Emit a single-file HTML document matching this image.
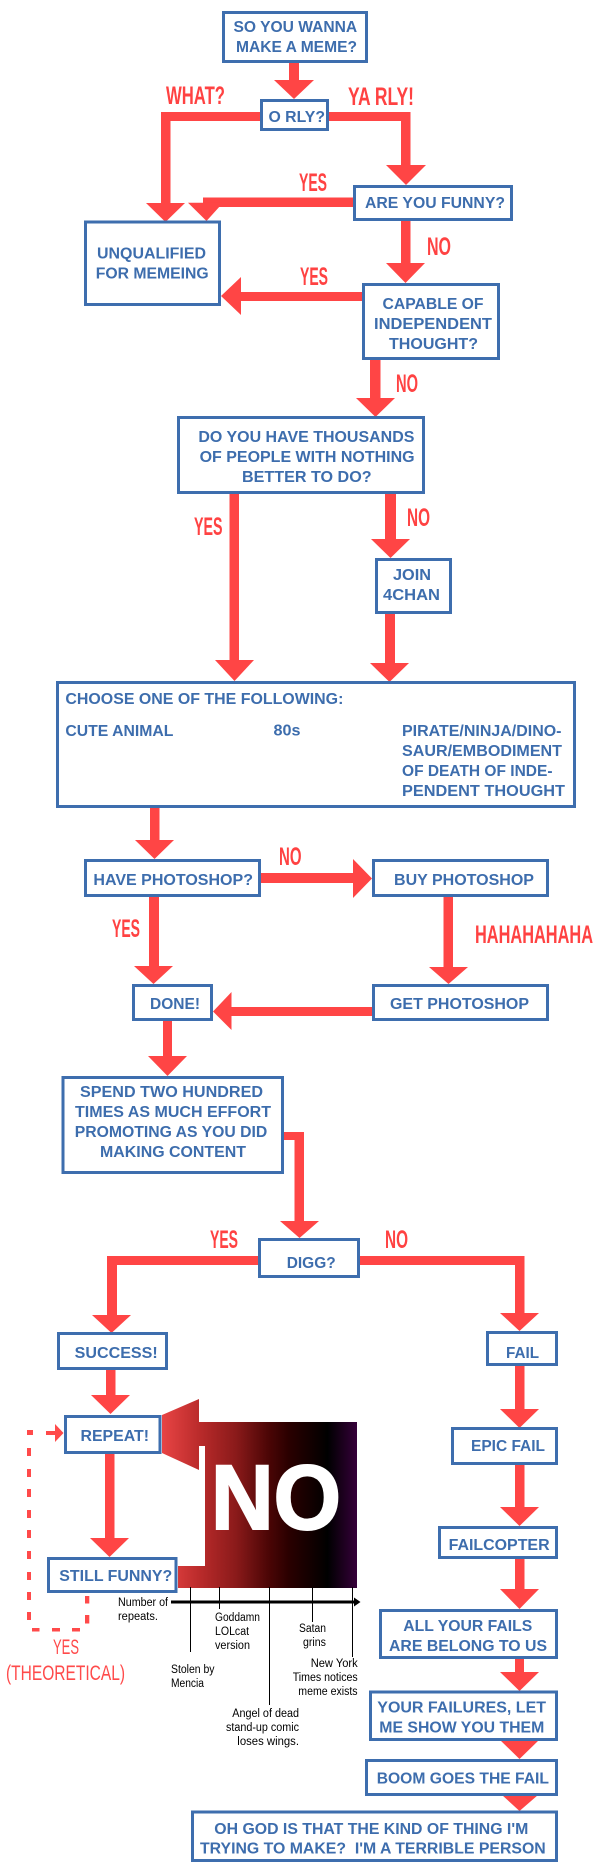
<!DOCTYPE html>
<html><head><meta charset="utf-8"><style>
html,body{margin:0;padding:0;background:#fff;}
svg{display:block;}
.bt{font-family:"Liberation Sans",Arial,sans-serif;font-weight:bold;font-size:16px;fill:#3d6dad;}
.rl{font-family:"Liberation Sans",Arial,sans-serif;font-weight:bold;font-size:25px;fill:#ff4242;}
.th{font-family:"Liberation Sans",Arial,sans-serif;font-size:21px;fill:#ff4a4a;}
.sm{font-family:"Liberation Sans",Arial,sans-serif;font-size:11.5px;fill:#000;}
</style></head><body>
<svg width="610" height="1875" viewBox="0 0 610 1875" xmlns="http://www.w3.org/2000/svg">
<defs>
<linearGradient id="g" gradientUnits="userSpaceOnUse" x1="162" y1="0" x2="357" y2="0">
<stop offset="0" stop-color="#e84444"/>
<stop offset="0.2" stop-color="#b82a2a"/>
<stop offset="0.38" stop-color="#8a1a1a"/>
<stop offset="0.55" stop-color="#4a0505"/>
<stop offset="0.65" stop-color="#2a0000"/>
<stop offset="0.85" stop-color="#000000"/>
<stop offset="1" stop-color="#36003a"/>
</linearGradient>
</defs>
<rect width="610" height="1875" fill="#fff"/>

<!-- red arrows -->
<g fill="#ff4545">
<rect x="289" y="62" width="10" height="19"/><polygon points="274,80 314,80 294,99"/>
<rect x="161" y="112" width="100" height="9"/><rect x="161" y="112" width="9.5" height="92"/><polygon points="146,203 185,203 165.5,222"/>
<rect x="328" y="112" width="82.5" height="9"/><rect x="401" y="112" width="9.5" height="54"/><polygon points="386,165 426,165 406,185"/>
<rect x="203" y="197.5" width="151" height="9.5"/><polygon points="188,202.7 223,202.7 206.5,221"/>
<rect x="401" y="220" width="9.5" height="44"/><polygon points="386,263 425,263 405.5,283"/>
<rect x="240" y="292" width="123" height="9"/><polygon points="241,277 241,315 221,296"/>
<rect x="370" y="359" width="10.5" height="40"/><polygon points="356,398 395,398 375.5,417"/>
<rect x="229.5" y="493" width="9.5" height="168"/><polygon points="215,660 254,660 234.5,681"/>
<rect x="385" y="493" width="11" height="47"/><polygon points="371,539 410,539 390.5,558"/>
<rect x="385" y="613" width="10" height="51"/><polygon points="370,663 409,663 389.5,682"/>
<rect x="150" y="807" width="9.5" height="34"/><polygon points="135,840 174,840 154.5,859"/>
<rect x="260" y="873" width="94" height="10"/><polygon points="353,859 353,898 372,878.5"/>
<rect x="443.5" y="896" width="9.5" height="72"/><polygon points="429,967 468,967 448.5,984"/>
<rect x="149" y="896" width="10" height="71"/><polygon points="134,966 173,966 153.5,984"/>
<rect x="231" y="1007" width="142" height="9"/><polygon points="231.5,992 231.5,1030 213,1011.5"/>
<rect x="163" y="1020" width="9" height="37"/><polygon points="148,1056 187,1056 167.5,1076"/>
<rect x="283" y="1132" width="21" height="8"/><rect x="294.5" y="1132" width="9.5" height="90"/><polygon points="280,1221 319,1221 299.5,1238"/>
<rect x="107" y="1256" width="153" height="9"/><rect x="107" y="1256" width="10" height="60"/><polygon points="92,1315 131,1315 111.5,1333"/>
<rect x="358" y="1256" width="166.5" height="9"/><rect x="515" y="1256" width="9.5" height="58"/><polygon points="500,1313 539,1313 519.5,1331"/>
<rect x="106" y="1369" width="9.5" height="27"/><polygon points="91,1395 130,1395 110.5,1414"/>
<rect x="105" y="1453" width="9.5" height="86"/><polygon points="90,1538 129,1538 109.5,1557"/>
<rect x="515" y="1365" width="9.5" height="45"/><polygon points="500,1409 539,1409 519.5,1428"/>
<rect x="515" y="1464" width="9.5" height="44"/><polygon points="500,1507 539,1507 519.5,1526"/>
<rect x="515" y="1558" width="9.5" height="32"/><polygon points="500,1589 539,1589 519.5,1609"/>
<rect x="515" y="1658" width="9" height="15"/><polygon points="500,1672 539,1672 519.5,1691"/>
<polygon points="500,1740 539,1740 519.5,1759"/>
<polygon points="502,1795 538,1795 519.5,1811"/>
</g>

<!-- dotted theoretical loop -->
<g fill="#ff4a4a">
<rect x="27" y="1430" width="6" height="5"/>
<rect x="46" y="1431" width="10" height="4"/>
<polygon points="55,1424 55,1442 63.5,1433"/>
<rect x="27" y="1448" width="4" height="8"/>
<rect x="27" y="1469" width="4" height="8"/>
<rect x="27" y="1489" width="4" height="8"/>
<rect x="27" y="1510" width="4" height="8"/>
<rect x="27" y="1530" width="4" height="8"/>
<rect x="27" y="1551" width="4" height="8"/>
<rect x="27" y="1572" width="4" height="8"/>
<rect x="27" y="1592" width="4" height="8"/>
<rect x="27" y="1612" width="4" height="8"/>
<rect x="32" y="1628" width="7.5" height="3.5"/>
<rect x="52" y="1628" width="8" height="3.5"/>
<rect x="72" y="1628" width="8" height="3.5"/>
<rect x="85" y="1596" width="4.3" height="7.5"/>
<rect x="85" y="1615" width="4.3" height="8.5"/>
</g>

<!-- NO loop graphic -->
<path d="M178,1566 L205,1566 L205,1446 L199,1446 L199,1470 L162,1453 L162,1415 L199,1399 L199,1422 L357,1422 L357,1588 L178,1588 Z" fill="url(#g)"/>
<text x="211" y="1529" font-family="Liberation Sans, Arial, sans-serif" font-weight="bold" font-size="92" fill="#fff" stroke="#fff" stroke-width="2" textLength="130" lengthAdjust="spacingAndGlyphs">NO</text>

<!-- axis -->
<rect x="171" y="1600.5" width="184" height="3" fill="#000"/>
<polygon points="354,1597.5 360.5,1602 354,1606.5" fill="#000"/>
<g stroke="#000" stroke-width="1">
<line x1="190.5" y1="1587" x2="190.5" y2="1652"/>
<line x1="219.5" y1="1587" x2="219.5" y2="1609"/>
<line x1="269.5" y1="1587" x2="269.5" y2="1705"/>
<line x1="312.5" y1="1587" x2="312.5" y2="1622"/>
<line x1="352.5" y1="1587" x2="352.5" y2="1657"/>
</g>
<text class="sm" x="118" y="1606" textLength="50" lengthAdjust="spacingAndGlyphs">Number of</text>
<text class="sm" x="118" y="1620" textLength="40" lengthAdjust="spacingAndGlyphs">repeats.</text>
<text class="sm" x="215" y="1621" textLength="45" lengthAdjust="spacingAndGlyphs">Goddamn</text>
<text class="sm" x="215" y="1635" textLength="34" lengthAdjust="spacingAndGlyphs">LOLcat</text>
<text class="sm" x="215" y="1649" textLength="35" lengthAdjust="spacingAndGlyphs">version</text>
<text class="sm" x="299" y="1632" textLength="27" lengthAdjust="spacingAndGlyphs">Satan</text>
<text class="sm" x="303" y="1646" textLength="23" lengthAdjust="spacingAndGlyphs">grins</text>
<text class="sm" x="171" y="1673" textLength="43.5" lengthAdjust="spacingAndGlyphs">Stolen by</text>
<text class="sm" x="171" y="1687" textLength="33" lengthAdjust="spacingAndGlyphs">Mencia</text>
<text class="sm" x="310.7" y="1667" textLength="47" lengthAdjust="spacingAndGlyphs">New York</text>
<text class="sm" x="292.7" y="1681" textLength="65" lengthAdjust="spacingAndGlyphs">Times notices</text>
<text class="sm" x="298.3" y="1695" textLength="59.3" lengthAdjust="spacingAndGlyphs">meme exists</text>
<text class="sm" x="232.3" y="1717" textLength="66.7" lengthAdjust="spacingAndGlyphs">Angel of dead</text>
<text class="sm" x="226" y="1731" textLength="73" lengthAdjust="spacingAndGlyphs">stand-up comic</text>
<text class="sm" x="237.3" y="1745" textLength="61.7" lengthAdjust="spacingAndGlyphs">loses wings.</text>

<!-- boxes -->
<g fill="#fff" stroke="#3e6eae" stroke-width="3">
<rect x="223.5" y="12.5" width="143" height="49"/>
<rect x="261.5" y="100.5" width="66" height="29"/>
<rect x="354.5" y="186.5" width="157" height="33"/>
<rect x="85.5" y="222" width="134" height="82.5"/>
<rect x="363.5" y="284.5" width="135" height="74"/>
<rect x="178.5" y="417.5" width="245" height="75"/>
<rect x="376.5" y="559.5" width="74" height="53"/>
<rect x="57.5" y="682.5" width="517" height="124"/>
<rect x="85.5" y="860.5" width="174" height="35"/>
<rect x="373.5" y="860.5" width="174" height="35"/>
<rect x="133.5" y="985.5" width="78" height="34"/>
<rect x="373.5" y="985.5" width="174" height="34"/>
<rect x="63" y="1077.5" width="219.5" height="95"/>
<rect x="259.5" y="1239.5" width="99" height="37"/>
<rect x="58.5" y="1333.5" width="108" height="35"/>
<rect x="487.5" y="1332.5" width="69" height="32"/>
<rect x="65.5" y="1416.5" width="94.5" height="36"/>
<rect x="452.5" y="1428.5" width="104" height="35"/>
<rect x="439.5" y="1527.5" width="117" height="30"/>
<rect x="48.5" y="1558.5" width="127.5" height="33"/>
<rect x="380.5" y="1610.5" width="176" height="47"/>
<rect x="370.5" y="1692" width="186" height="47.5"/>
<rect x="366.5" y="1760.5" width="190" height="34"/>
<rect x="192.5" y="1812" width="364" height="48.5"/>
</g>

<!-- box text -->
<g class="bt">
<text class="bt" x="233.5" y="32" textLength="123.7" lengthAdjust="spacingAndGlyphs">SO YOU WANNA</text>
<text class="bt" x="236" y="52" textLength="121" lengthAdjust="spacingAndGlyphs">MAKE A MEME?</text>
<text class="bt" x="268.5" y="122" textLength="56.5" lengthAdjust="spacingAndGlyphs">O RLY?</text>
<text class="bt" x="365" y="208" textLength="140" lengthAdjust="spacingAndGlyphs">ARE YOU FUNNY?</text>
<text class="bt" x="97" y="258.5" textLength="109" lengthAdjust="spacingAndGlyphs">UNQUALIFIED</text>
<text class="bt" x="95.7" y="278.5" textLength="113" lengthAdjust="spacingAndGlyphs">FOR MEMEING</text>
<text class="bt" x="382.5" y="309" textLength="101" lengthAdjust="spacingAndGlyphs">CAPABLE OF</text>
<text class="bt" x="374" y="329" textLength="118" lengthAdjust="spacingAndGlyphs">INDEPENDENT</text>
<text class="bt" x="389" y="349" textLength="89" lengthAdjust="spacingAndGlyphs">THOUGHT?</text>
<text class="bt" x="198.4" y="442" textLength="216" lengthAdjust="spacingAndGlyphs">DO YOU HAVE THOUSANDS</text>
<text class="bt" x="199.6" y="462" textLength="215" lengthAdjust="spacingAndGlyphs">OF PEOPLE WITH NOTHING</text>
<text class="bt" x="242" y="482" textLength="129.6" lengthAdjust="spacingAndGlyphs">BETTER TO DO?</text>
<text class="bt" x="393" y="580" textLength="38" lengthAdjust="spacingAndGlyphs">JOIN</text>
<text class="bt" x="383" y="600" textLength="57" lengthAdjust="spacingAndGlyphs">4CHAN</text>
<text class="bt" x="65.4" y="704" textLength="278" lengthAdjust="spacingAndGlyphs">CHOOSE ONE OF THE FOLLOWING:</text>
<text class="bt" x="65.4" y="736" textLength="108" lengthAdjust="spacingAndGlyphs">CUTE ANIMAL</text>
<text class="bt" x="273.5" y="735.5" textLength="27" lengthAdjust="spacingAndGlyphs">80s</text>
<text class="bt" x="402" y="736" textLength="159.5" lengthAdjust="spacingAndGlyphs">PIRATE/NINJA/DINO-</text>
<text class="bt" x="402" y="756" textLength="160" lengthAdjust="spacingAndGlyphs">SAUR/EMBODIMENT</text>
<text class="bt" x="402" y="776" textLength="150.5" lengthAdjust="spacingAndGlyphs">OF DEATH OF INDE-</text>
<text class="bt" x="402" y="796" textLength="163" lengthAdjust="spacingAndGlyphs">PENDENT THOUGHT</text>
<text class="bt" x="93.4" y="885" textLength="159.6" lengthAdjust="spacingAndGlyphs">HAVE PHOTOSHOP?</text>
<text class="bt" x="394" y="885" textLength="140" lengthAdjust="spacingAndGlyphs">BUY PHOTOSHOP</text>
<text class="bt" x="150" y="1009" textLength="50" lengthAdjust="spacingAndGlyphs">DONE!</text>
<text class="bt" x="390" y="1009" textLength="139" lengthAdjust="spacingAndGlyphs">GET PHOTOSHOP</text>
<text class="bt" x="80" y="1097" textLength="183" lengthAdjust="spacingAndGlyphs">SPEND TWO HUNDRED</text>
<text class="bt" x="75" y="1117" textLength="196" lengthAdjust="spacingAndGlyphs">TIMES AS MUCH EFFORT</text>
<text class="bt" x="74.7" y="1137" textLength="192.6" lengthAdjust="spacingAndGlyphs">PROMOTING AS YOU DID</text>
<text class="bt" x="100" y="1157" textLength="146" lengthAdjust="spacingAndGlyphs">MAKING CONTENT</text>
<text class="bt" x="286.7" y="1268" textLength="49" lengthAdjust="spacingAndGlyphs">DIGG?</text>
<text class="bt" x="74.7" y="1358" textLength="83" lengthAdjust="spacingAndGlyphs">SUCCESS!</text>
<text class="bt" x="506" y="1358" textLength="33" lengthAdjust="spacingAndGlyphs">FAIL</text>
<text class="bt" x="80.5" y="1441" textLength="68.5" lengthAdjust="spacingAndGlyphs">REPEAT!</text>
<text class="bt" x="471" y="1451" textLength="74" lengthAdjust="spacingAndGlyphs">EPIC FAIL</text>
<text class="bt" x="448.6" y="1550" textLength="101" lengthAdjust="spacingAndGlyphs">FAILCOPTER</text>
<text class="bt" x="59.3" y="1581" textLength="113" lengthAdjust="spacingAndGlyphs">STILL FUNNY?</text>
<text class="bt" x="403.3" y="1631" textLength="129" lengthAdjust="spacingAndGlyphs">ALL YOUR FAILS</text>
<text class="bt" x="389" y="1651" textLength="158" lengthAdjust="spacingAndGlyphs">ARE BELONG TO US</text>
<text class="bt" x="377.3" y="1712.7" textLength="168.7" lengthAdjust="spacingAndGlyphs">YOUR FAILURES, LET</text>
<text class="bt" x="379.3" y="1732.7" textLength="165" lengthAdjust="spacingAndGlyphs">ME SHOW YOU THEM</text>
<text class="bt" x="376.7" y="1783.7" textLength="172.3" lengthAdjust="spacingAndGlyphs">BOOM GOES THE FAIL</text>
<text class="bt" x="214.3" y="1834" textLength="314" lengthAdjust="spacingAndGlyphs">OH GOD IS THAT THE KIND OF THING I'M</text>
<text class="bt" x="200" y="1853.7" textLength="345.7" lengthAdjust="spacingAndGlyphs" xml:space="preserve">TRYING TO MAKE?  I'M A TERRIBLE PERSON</text>
</g>

<!-- red labels -->
<g>
<text class="rl" x="166" y="104" textLength="59" lengthAdjust="spacingAndGlyphs">WHAT?</text>
<text class="rl" x="348" y="105" textLength="66" lengthAdjust="spacingAndGlyphs">YA RLY!</text>
<text class="rl" x="299" y="191" textLength="28" lengthAdjust="spacingAndGlyphs">YES</text>
<text class="rl" x="427" y="255" textLength="24" lengthAdjust="spacingAndGlyphs">NO</text>
<text class="rl" x="300" y="285" textLength="28" lengthAdjust="spacingAndGlyphs">YES</text>
<text class="rl" x="396" y="392" textLength="22" lengthAdjust="spacingAndGlyphs">NO</text>
<text class="rl" x="194" y="535" textLength="28.5" lengthAdjust="spacingAndGlyphs">YES</text>
<text class="rl" x="407" y="526" textLength="23" lengthAdjust="spacingAndGlyphs">NO</text>
<text class="rl" x="279" y="865" textLength="22.5" lengthAdjust="spacingAndGlyphs">NO</text>
<text class="rl" x="475" y="943" textLength="118" lengthAdjust="spacingAndGlyphs">HAHAHAHAHA</text>
<text class="rl" x="112" y="937" textLength="28" lengthAdjust="spacingAndGlyphs">YES</text>
<text class="rl" x="210" y="1248" textLength="28" lengthAdjust="spacingAndGlyphs">YES</text>
<text class="rl" x="385" y="1248" textLength="23" lengthAdjust="spacingAndGlyphs">NO</text>
<text class="th" x="53" y="1654" textLength="26" lengthAdjust="spacingAndGlyphs">YES</text>
<text class="th" x="6" y="1680" textLength="119" lengthAdjust="spacingAndGlyphs">(THEORETICAL)</text>
</g>
</svg>
</body></html>
